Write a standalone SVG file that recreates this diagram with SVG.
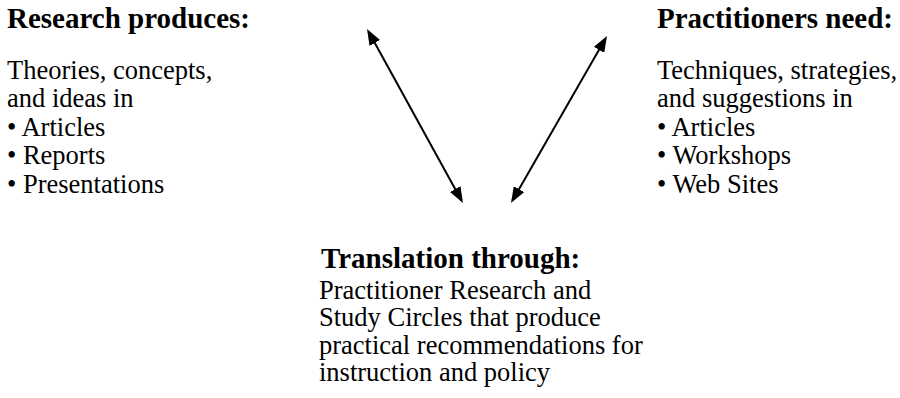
<svg xmlns="http://www.w3.org/2000/svg" width="900" height="398" viewBox="0 0 900 398">
<style>
.h{font-family:'Liberation Serif','Times New Roman',Times,serif;font-weight:bold;font-size:29px;fill:#000}
.t{font-family:'Liberation Serif','Times New Roman',Times,serif;font-weight:400;font-size:26.5px;fill:#000}
.c{stroke:#000;stroke-width:2;fill:none;marker-start:url(#ah);marker-end:url(#ah)}
</style>
<defs>
<marker id="ah" viewBox="0 0 16 12" refX="13" refY="6" markerWidth="16" markerHeight="12" markerUnits="userSpaceOnUse" orient="auto-start-reverse">
<path d="M0,0 L16,6 L0,12 z" fill="#000"/>
</marker>
</defs>
<rect width="900" height="398" fill="#fff"/>
<g id="research">
<text class="h" x="7" y="28">Research produces:</text>
<text class="t" x="7" y="79">Theories, concepts,</text>
<text class="t" x="7" y="107">and ideas in</text>
<text class="t" x="7" y="136">• Articles</text>
<text class="t" x="7" y="164">• Reports</text>
<text class="t" x="7" y="193">• Presentations</text>
</g>
<g id="practitioners">
<text class="h" x="657" y="28">Practitioners need:</text>
<text class="t" x="657" y="79">Techniques, strategies,</text>
<text class="t" x="657" y="107">and suggestions in</text>
<text class="t" x="657" y="136">• Articles</text>
<text class="t" x="657" y="164">• Workshops</text>
<text class="t" x="657" y="193">• Web Sites</text>
</g>
<g id="translation">
<text class="h" x="321" y="268">Translation through:</text>
<text class="t" x="319" y="299">Practitioner Research and</text>
<text class="t" x="319" y="326">Study Circles that produce</text>
<text class="t" x="319" y="354">practical recommendations for</text>
<text class="t" x="319" y="381">instruction and policy</text>
</g>
<g id="connectors">
<line class="c" x1="368.5" y1="31.6" x2="461.5" y2="200.4"/>
<line class="c" x1="605.5" y1="38.6" x2="512.5" y2="200.4"/>
</g>
</svg>
